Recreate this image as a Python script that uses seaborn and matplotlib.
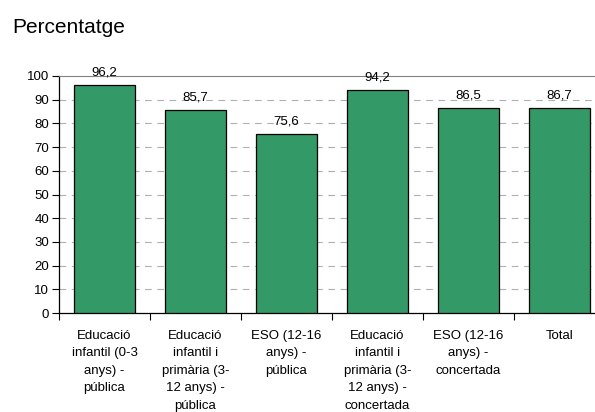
import matplotlib
matplotlib.use("Agg")
import matplotlib.pyplot as plt
import seaborn as sns
import pandas as pd
import numpy as np

categories = [
    "Educació\ninfantil (0-3\nanys) -\npública",
    "Educació\ninfantil i\nprimària (3-\n12 anys) -\npública",
    "ESO (12-16\nanys) -\npública",
    "Educació\ninfantil i\nprimària (3-\n12 anys) -\nconcertada",
    "ESO (12-16\nanys) -\nconcertada",
    "Total",
]
values = [96.2, 85.7, 75.6, 94.2, 86.5, 86.7]
value_labels = ["96,2", "85,7", "75,6", "94,2", "86,5", "86,7"]

df = pd.DataFrame({"cat": categories, "val": values})

sns.set_style("white")
plt.rcParams["font.family"] = ["Liberation Sans", "DejaVu Sans"]
plt.rcParams["text.color"] = "black"
plt.rcParams["xtick.color"] = "black"
plt.rcParams["ytick.color"] = "black"

fig = plt.figure(figsize=(5.95, 4.12), dpi=100)
ax = fig.add_axes([59 / 595, (412 - 313) / 412, 546 / 595, 237 / 412])

sns.barplot(data=df, x="cat", y="val", color="#339966", saturation=1,
            edgecolor="black", linewidth=0.9, width=0.68, ax=ax, zorder=3)

for i, (v, lab) in enumerate(zip(values, value_labels)):
    ax.text(i, v + 2.6, lab, ha="center", va="bottom", fontsize=9.5, zorder=4)

ax.set_ylim(0, 100)
ax.set_xlim(-0.5, 5.5)
ax.set_yticks(range(0, 101, 10))
ax.tick_params(axis="y", labelsize=9.5, length=5, width=0.8, direction="out", left=True, pad=2)
ax.set_xticks(range(6))
ax.set_xticklabels(categories, fontsize=9.5, linespacing=1.62, va="top")
ax.tick_params(axis="x", length=0, pad=12)
ax.set_xticks(np.arange(-0.5, 5.6, 1), minor=True)
ax.tick_params(axis="x", which="minor", length=5, width=0.8, direction="out", bottom=True)

for y in range(10, 100, 10):
    ax.axhline(y, color="#b0b0b0", lw=0.8, ls=(0, (6, 5)), zorder=1)

ax.set_xlabel("")
ax.set_ylabel("")
ax.spines["left"].set_color("black")
ax.spines["bottom"].set_color("black")
ax.spines["left"].set_linewidth(0.9)
ax.spines["bottom"].set_linewidth(0.9)
ax.spines["top"].set_color("#808080")
ax.spines["top"].set_linewidth(0.8)
ax.spines["right"].set_visible(False)

fig.text(12 / 595, 1 - 33 / 412, "Percentatge", fontsize=15, va="baseline", ha="left")

fig.savefig("out.png", dpi=100)
